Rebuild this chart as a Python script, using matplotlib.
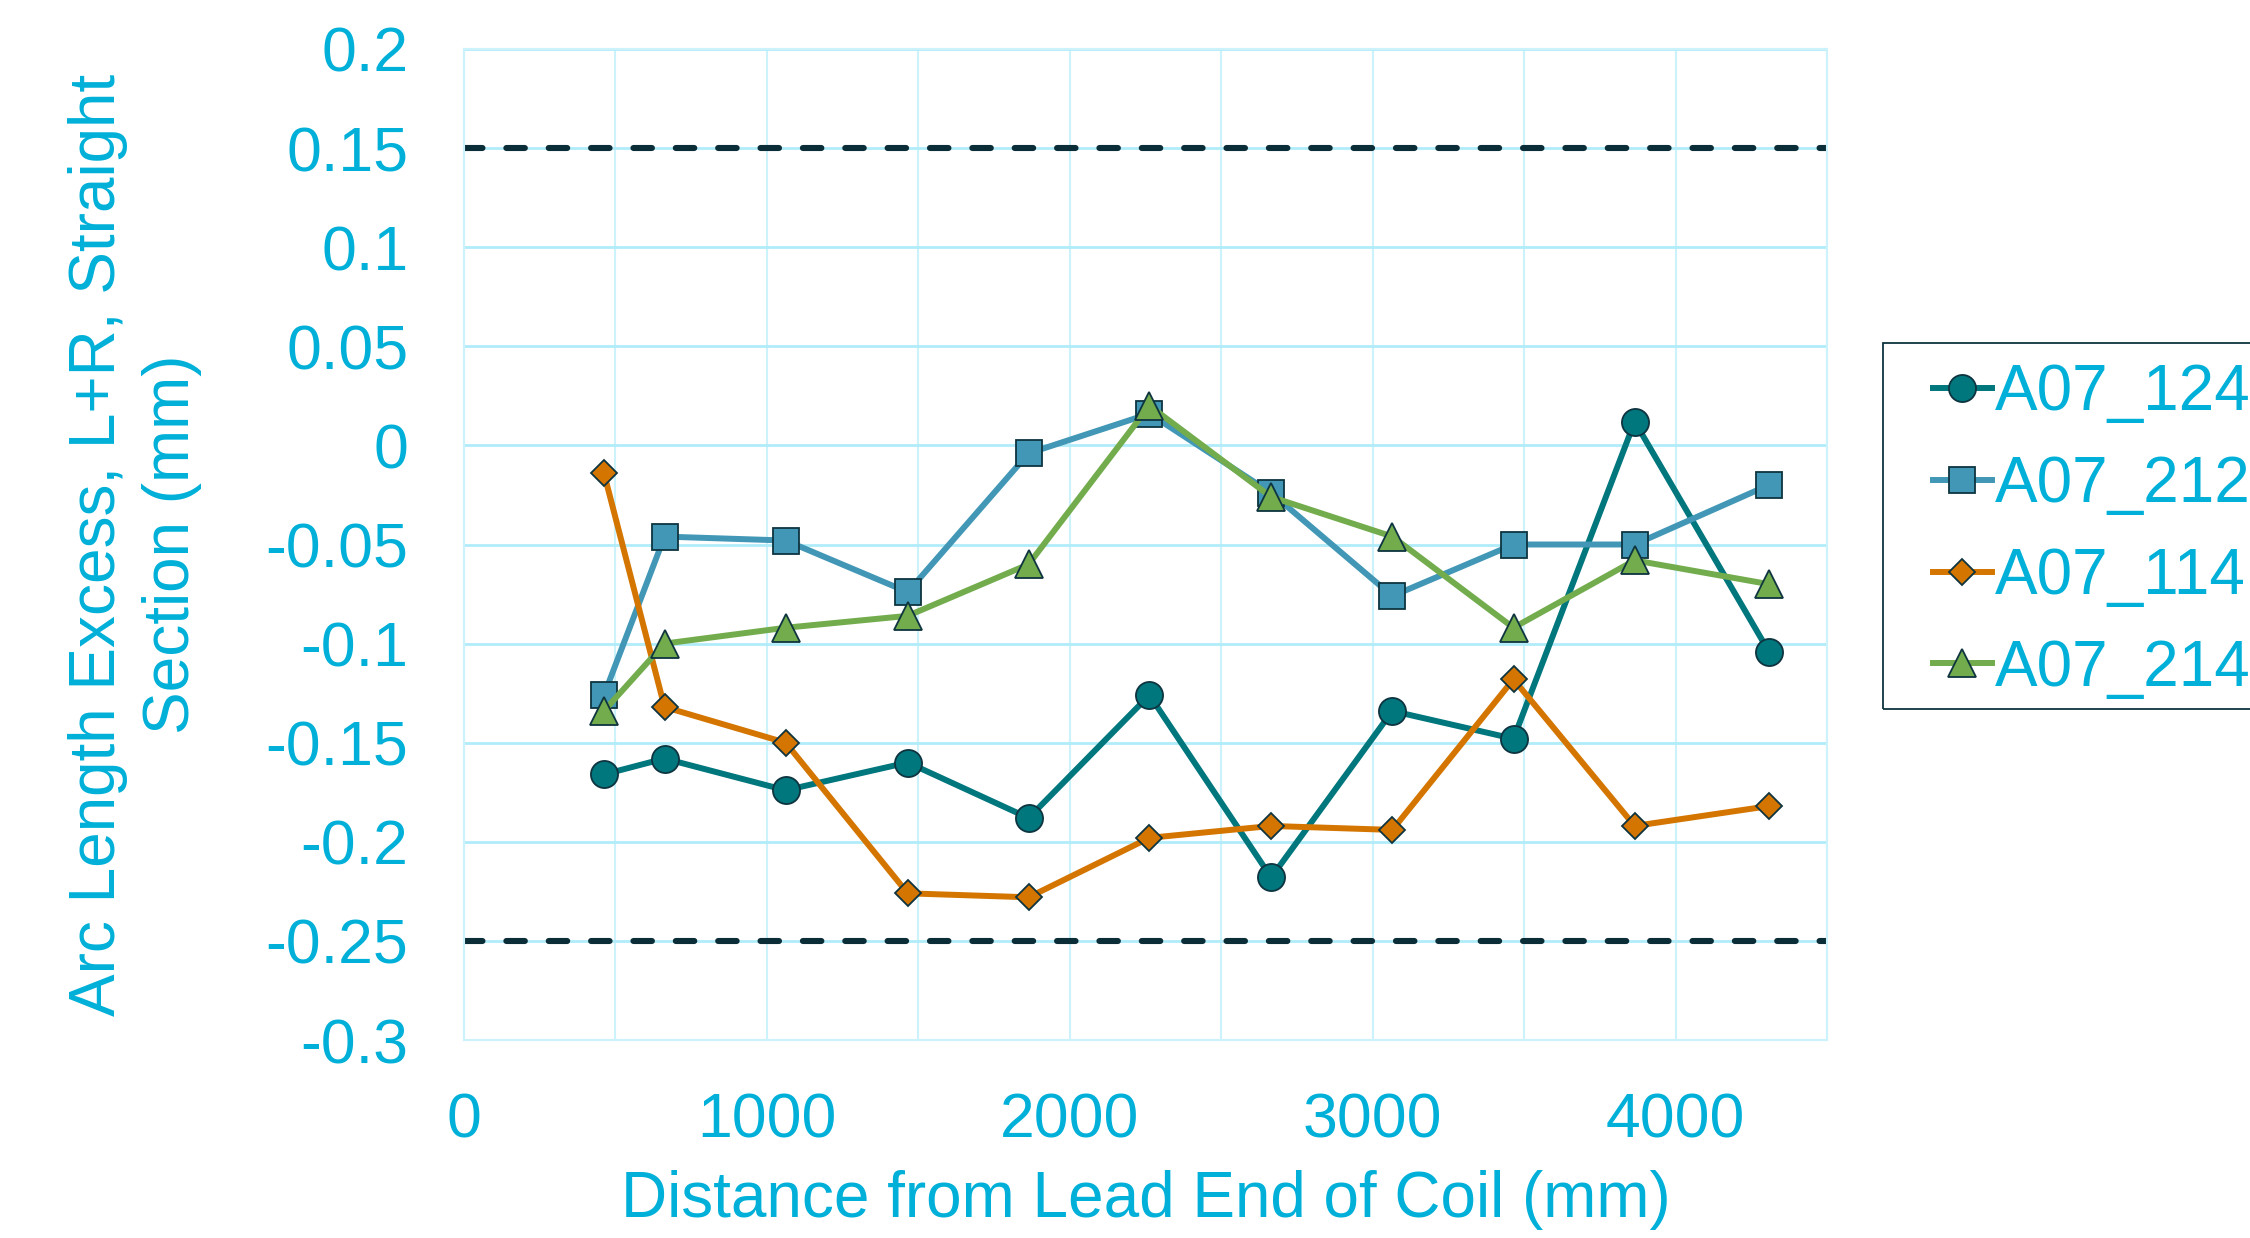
import matplotlib
matplotlib.use('Agg')
import matplotlib.pyplot as plt
from matplotlib.patches import Rectangle

# Data
distance = [462, 662, 1062, 1465, 1864, 2263, 2665, 3065, 3465, 3865, 4308]
a07_124 = [-0.166, -0.158, -0.174, -0.160, -0.188, -0.126, -0.218, -0.134, -0.148, 0.012, -0.104]
a07_212 = [-0.126, -0.046, -0.048, -0.074, -0.004, 0.016, -0.024, -0.076, -0.050, -0.050, -0.020]
a07_114 = [-0.014, -0.132, -0.150, -0.226, -0.228, -0.198, -0.192, -0.194, -0.118, -0.192, -0.182]
a07_214 = [-0.134, -0.100, -0.092, -0.086, -0.060, 0.020, -0.026, -0.046, -0.092, -0.058, -0.070]
series_names = ['A07_124', 'A07_212', 'A07_114', 'A07_214']
limits = [0.15, -0.25]

yticks = [0.2, 0.15, 0.1, 0.05, 0, -0.05, -0.1, -0.15, -0.2, -0.25, -0.3]
ytick_labels = ['0.2', '0.15', '0.1', '0.05', '0', '-0.05', '-0.1', '-0.15', '-0.2', '-0.25', '-0.3']
xticks = [0, 1000, 2000, 3000, 4000]
xticks_minor = [500, 1500, 2500, 3500, 4500]

txt = '#00B0D8'
edge = '#0E3440'
hgrid = '#B0ECF9'
vgrid = '#CCF3FB'

plt.rcParams['font.family'] = ['Liberation Sans', 'DejaVu Sans']
plt.rcParams['lines.scale_dashes'] = False

W, H = 2250, 1238
fig = plt.figure(figsize=(W / 100, H / 100), dpi=100)
ax = fig.add_axes([464 / W, 1 - 1040 / H, (1827 - 464) / W, (1040 - 49) / H])

styles = [
    dict(color='#00767D', marker='o', markersize=19.5),
    dict(color='#4197B5', marker='s', markersize=19),
    dict(color='#D47500', marker='D', markersize=13.5),
    dict(color='#72AC4D', marker='^', markersize=19.5),
]
for vals, name, st in zip([a07_124, a07_212, a07_114, a07_214], series_names, styles):
    ax.plot(distance, vals, label=name, linewidth=4.3, markeredgecolor=edge,
            markeredgewidth=1.3, zorder=3, **st)

for lim in limits:
    ax.axhline(lim, color='#0B2D38', linewidth=4.4, dashes=(13.3, 17.2),
               dash_capstyle='round', zorder=2)

ax.set_xlim(0, 4500)
ax.set_ylim(-0.3, 0.2)
ax.set_xticks(xticks)
ax.set_xticks(xticks_minor, minor=True)
ax.set_yticks(yticks)
ax.set_yticklabels(ytick_labels)
ax.grid(True, which='major', axis='y', color=hgrid, linewidth=2, zorder=0)
ax.grid(True, which='both', axis='x', color=vgrid, linewidth=1.5, zorder=0)
ax.set_axisbelow(True)
for sp in ax.spines.values():
    sp.set_color(vgrid)
    sp.set_linewidth(1.5)
ax.tick_params(which='both', length=0, labelsize=45, labelcolor=txt)
ax.tick_params(axis='x', pad=37)
ax.tick_params(axis='y', pad=40)

ax.set_xlabel('Distance from Lead End of Coil (mm)', fontsize=46, color=txt, labelpad=14)
ax.set_ylabel('Arc Length Excess, L+R, Straight\nSection (mm)', fontsize=46,
              color=txt, labelpad=46, linespacing=1.3)

# legend runs off the right edge of the figure, as in the reference
leg = ax.legend(loc='upper left', bbox_to_anchor=(1933 / W, 1 - 363 / H),
                bbox_transform=fig.transFigure, fontsize=46, labelcolor=txt,
                frameon=False, handlelength=0.92, handletextpad=0.05,
                borderpad=0, labelspacing=0.5, borderaxespad=0)
fig.patches.append(Rectangle((1883 / W, 1 - 709 / H), (2300 - 1883) / W, (709 - 343) / H,
                             transform=fig.transFigure, fill=False, edgecolor=edge,
                             linewidth=1.3))

fig.savefig('out.png', dpi=100)
